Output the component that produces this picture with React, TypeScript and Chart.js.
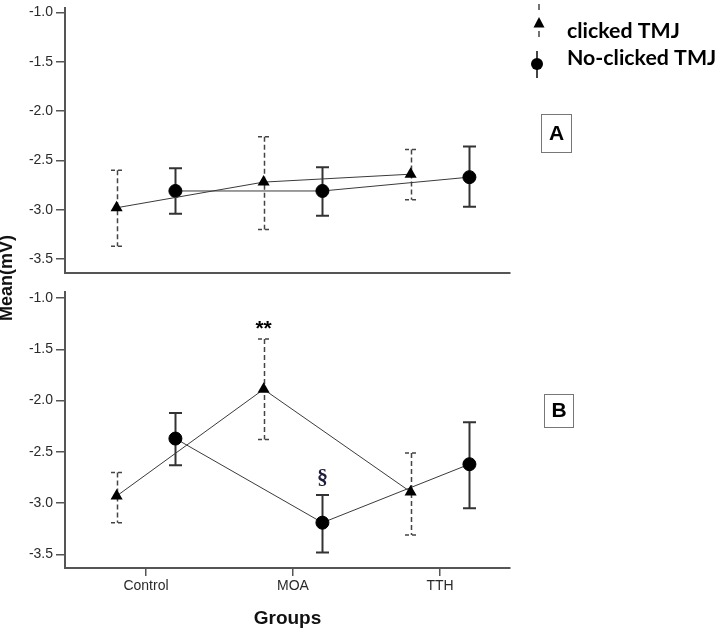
import React, { useEffect, useRef } from 'react';
import { Chart, registerables } from 'chart.js';
Chart.register(...registerables);

// ---------- data ----------
const categories = ['Control', 'MOA', 'TTH'];
const yTickValues = [-3.5, -3.0, -2.5, -2.0, -1.5, -1.0];
const seriesLabels = ['clicked TMJ', 'No-clicked TMJ'];

// Panel A
const clickedAMean = [-2.98, -2.72, -2.64];
const clickedALow = [-3.37, -3.2, -2.9];
const clickedAHigh = [-2.6, -2.26, -2.39];
const noClickedAMean = [-2.81, -2.81, -2.67];
const noClickedALow = [-3.04, -3.06, -2.97];
const noClickedAHigh = [-2.58, -2.57, -2.36];

// Panel B
const clickedBMean = [-2.93, -1.89, -2.89];
const clickedBLow = [-3.19, -2.38, -3.31];
const clickedBHigh = [-2.7, -1.4, -2.51];
const noClickedBMean = [-2.37, -3.19, -2.62];
const noClickedBLow = [-2.63, -3.48, -3.05];
const noClickedBHigh = [-2.12, -2.92, -2.21];

// significance marks in panel B
const annotationSeries = [0, 1];
const annotationGroups = [1, 1];
const annotationTexts = ['**', '§'];

// ---------- layout / style ----------
const X_MIN = -0.551;
const X_MAX = 2.476;
const OFFSET = 0.2;
const AXIS_COLOR = '#555';
const TICK_FONT = { family: '"Liberation Sans", Arial, sans-serif', size: 14 };

function makeDatasets(cm: number[], cl: number[], ch: number[], nm: number[], nl: number[], nh: number[]) {
  return [
    {
      label: seriesLabels[0],
      data: cm.map((v, i) => ({ x: i - OFFSET, y: v })),
      errLow: cl,
      errHigh: ch,
      dashed: true,
      showLine: true,
      pointStyle: 'triangle',
      pointRadius: 7,
      pointBackgroundColor: '#000',
      pointBorderColor: '#000',
      pointBorderWidth: 0,
      borderColor: '#3a3a3a',
      borderWidth: 1,
      fill: false,
    },
    {
      label: seriesLabels[1],
      data: nm.map((v, i) => ({ x: i + OFFSET, y: v })),
      errLow: nl,
      errHigh: nh,
      dashed: false,
      showLine: true,
      pointStyle: 'circle',
      pointRadius: 6.5,
      pointBackgroundColor: '#000',
      pointBorderColor: '#000',
      pointBorderWidth: 1,
      borderColor: '#3a3a3a',
      borderWidth: 1,
      fill: false,
    },
  ];
}

const errorBarPlugin = {
  id: 'errorBars',
  beforeDatasetsDraw(chart: any) {
    const ctx = chart.ctx;
    const ys = chart.scales.y;
    chart.data.datasets.forEach((ds: any, di: number) => {
      const meta = chart.getDatasetMeta(di);
      meta.data.forEach((pt: any, i: number) => {
        const x = Math.round(pt.x) + 0.5;
        const yl = ys.getPixelForValue(ds.errLow[i]);
        const yh = ys.getPixelForValue(ds.errHigh[i]);
        ctx.save();
        ctx.strokeStyle = ds.dashed ? '#444' : '#333';
        ctx.lineWidth = ds.dashed ? 1.5 : 2;
        ctx.setLineDash(ds.dashed ? [5, 3] : []);
        ctx.beginPath();
        ctx.moveTo(x, yh);
        ctx.lineTo(x, yl);
        ctx.stroke();
        ctx.setLineDash(ds.dashed ? [4, 3] : []);
        ctx.beginPath();
        ctx.moveTo(x - 6.5, yh);
        ctx.lineTo(x + 6.5, yh);
        ctx.moveTo(x - 6.5, yl);
        ctx.lineTo(x + 6.5, yl);
        ctx.stroke();
        ctx.restore();
      });
    });
  },
};

function drawPanelBox(ctx: CanvasRenderingContext2D, x: number, y: number, w: number, h: number, text: string) {
  ctx.save();
  ctx.strokeStyle = '#777';
  ctx.lineWidth = 1;
  ctx.strokeRect(x + 0.5, y + 0.5, w, h);
  ctx.fillStyle = '#000';
  ctx.font = 'bold 21px "Liberation Sans", Arial, sans-serif';
  ctx.textAlign = 'center';
  ctx.textBaseline = 'middle';
  ctx.fillText(text, x + w / 2 + 0.5, y + h / 2 + 1);
  ctx.restore();
}

const legendPlugin = {
  id: 'legendA',
  afterDraw(chart: any) {
    const ctx = chart.ctx as CanvasRenderingContext2D;
    ctx.save();
    // clicked marker: dashed bar + triangle
    ctx.strokeStyle = '#444';
    ctx.lineWidth = 1.5;
    ctx.beginPath();
    ctx.moveTo(539, 4);
    ctx.lineTo(539, 10);
    ctx.moveTo(539, 31);
    ctx.lineTo(539, 37);
    ctx.stroke();
    ctx.fillStyle = '#000';
    ctx.beginPath();
    ctx.moveTo(539, 17);
    ctx.lineTo(544.5, 27.5);
    ctx.lineTo(533.5, 27.5);
    ctx.closePath();
    ctx.fill();
    // no-clicked marker: solid bar + circle
    ctx.strokeStyle = '#444';
    ctx.lineWidth = 2;
    ctx.beginPath();
    ctx.moveTo(537, 51);
    ctx.lineTo(537, 78);
    ctx.stroke();
    ctx.beginPath();
    ctx.arc(537, 64, 6, 0, Math.PI * 2);
    ctx.fill();
    // texts, sized to the reference width
    const fam = '"Lato", "Open Sans", sans-serif';
    ctx.font = `bold 20px ${fam}`;
    const w = ctx.measureText(seriesLabels[0]).width;
    const size = (20 * 113) / w;
    ctx.font = `bold ${size.toFixed(2)}px ${fam}`;
    ctx.textAlign = 'left';
    ctx.textBaseline = 'alphabetic';
    ctx.fillText(seriesLabels[0], 567, 38);
    ctx.fillText(seriesLabels[1], 567, 65);
    ctx.restore();
    drawPanelBox(ctx, 541, 114, 30, 38, 'A');
  },
};

const panelBPlugin = {
  id: 'panelB',
  afterDraw(chart: any) {
    const ctx = chart.ctx as CanvasRenderingContext2D;
    const ys = chart.scales.y;
    ctx.save();
    annotationTexts.forEach((t, k) => {
      const di = annotationSeries[k];
      const gi = annotationGroups[k];
      const ds: any = chart.data.datasets[di];
      const pt: any = chart.getDatasetMeta(di).data[gi];
      const yh = ys.getPixelForValue(ds.errHigh[gi]);
      ctx.textAlign = 'center';
      ctx.textBaseline = 'alphabetic';
      if (t === '§') {
        ctx.fillStyle = '#1c1c3c';
        ctx.font = 'bold 22px "Liberation Serif", serif';
        ctx.fillText(t, pt.x, yh - 11);
      } else {
        ctx.fillStyle = '#000';
        ctx.font = 'bold 21px "Liberation Sans", Arial, sans-serif';
        ctx.fillText(t, pt.x, yh - 4);
      }
    });
    ctx.restore();
    drawPanelBox(ctx, 544, 114, 29, 33, 'B');
  },
};

function yScale(min: number, max: number) {
  return {
    type: 'linear',
    position: 'left',
    min,
    max,
    afterBuildTicks: (s: any) => {
      s.ticks = yTickValues.map((v) => ({ value: v }));
    },
    afterFit: (s: any) => {
      s.width = 65;
      s.paddingTop = 0;
      s.paddingBottom = 0;
    },
    ticks: {
      color: '#2a2a2a',
      font: TICK_FONT,
      padding: 3,
      callback: (v: any) => Number(v).toFixed(1),
    },
    grid: { drawOnChartArea: false, drawTicks: true, tickLength: 9, color: AXIS_COLOR, lineWidth: 1.5 },
    border: { display: true, color: AXIS_COLOR, width: 2 },
  };
}

function ChartPanel({ top, height, panel }: { top: number; height: number; panel: 'A' | 'B' }) {
  const ref = useRef<HTMLCanvasElement>(null);
  useEffect(() => {
    if (!ref.current) return;
    const isA = panel === 'A';
    const datasets = isA
      ? makeDatasets(clickedAMean, clickedALow, clickedAHigh, noClickedAMean, noClickedALow, noClickedAHigh)
      : makeDatasets(clickedBMean, clickedBLow, clickedBHigh, noClickedBMean, noClickedBLow, noClickedBHigh);
    const xScale: any = {
      type: 'linear',
      position: 'bottom',
      min: X_MIN,
      max: X_MAX,
      afterBuildTicks: (s: any) => {
        s.ticks = categories.map((_, i) => ({ value: i }));
      },
      afterFit: (s: any) => {
        s.height = isA ? 0 : 60;
        s.paddingLeft = 0;
        s.paddingRight = 0;
      },
      ticks: {
        display: !isA,
        color: '#2a2a2a',
        font: TICK_FONT,
        padding: 2,
        maxRotation: 0,
        autoSkip: false,
        callback: (v: any) => categories[Math.round(Number(v))] ?? '',
      },
      grid: { drawOnChartArea: false, drawTicks: !isA, tickLength: 8, color: AXIS_COLOR, lineWidth: 1.5 },
      border: { display: true, color: AXIS_COLOR, width: 2 },
      title: {
        display: !isA,
        text: 'Groups',
        color: '#111',
        font: { family: '"Liberation Sans", Arial, sans-serif', size: 19, weight: 'bold', lineHeight: 1 },
        padding: { top: 0, bottom: 0 },
      },
    };
    const chart = new Chart(ref.current, {
      type: 'scatter',
      data: { datasets: datasets as any },
      options: {
        responsive: false,
        animation: false,
        layout: { padding: isA ? { top: 0, left: 0, right: 208, bottom: 4 } : { top: 12, left: 0, right: 208, bottom: 0 } },
        plugins: { legend: { display: false }, tooltip: { enabled: false } },
        scales: {
          x: xScale,
          y: (isA ? yScale(-3.636, -0.951) : yScale(-3.6316, -0.9415)) as any,
        },
      },
      plugins: isA ? [errorBarPlugin, legendPlugin] : [errorBarPlugin, panelBPlugin],
    } as any);
    return () => chart.destroy();
  }, [panel]);
  return (
    <canvas
      ref={ref}
      width={718}
      height={height}
      style={{ position: 'absolute', left: 0, top, width: 718, height, display: 'block' }}
    />
  );
}

export default function App() {
  useEffect(() => {
    document.body.style.margin = '0';
    document.body.style.background = '#fff';
  }, []);
  return (
    <div style={{ position: 'relative', width: 718, height: 628, background: '#fff', overflow: 'hidden' }}>
      <ChartPanel top={0} height={280} panel="A" />
      <ChartPanel top={280} height={348} panel="B" />
      <div
        style={{
          position: 'absolute',
          left: 8 - 100,
          top: 278 - 12,
          width: 200,
          height: 24,
          lineHeight: '24px',
          textAlign: 'center',
          transform: 'rotate(-90deg)',
          font: 'bold 18px "Liberation Sans", Arial, sans-serif',
          color: '#111',
        }}
      >
        Mean(mV)
      </div>
    </div>
  );
}
